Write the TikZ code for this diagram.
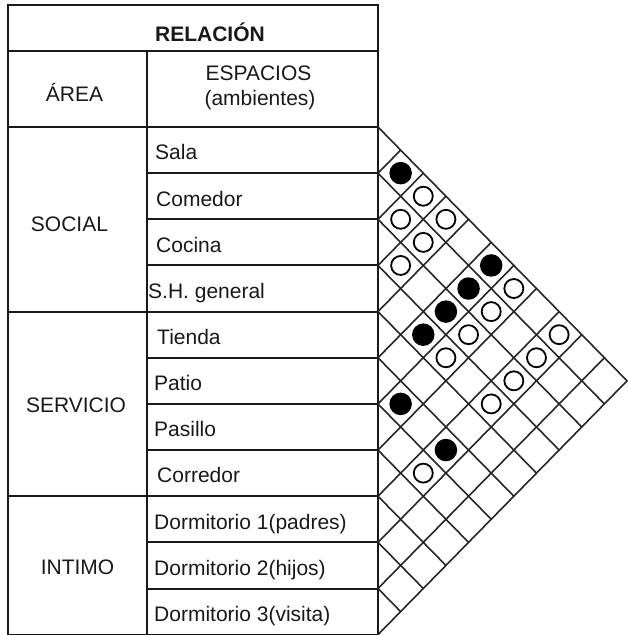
\documentclass[tikz,border=0pt]{standalone}
\usepackage{fontspec}
\setmainfont{Liberation Sans}
\begin{document}
\begin{tikzpicture}[x=1pt,y=-1pt,
  tline/.style={line width=2pt, draw=black!90},
  gline/.style={line width=1.6pt, draw=black!85, line cap=round},
  txt/.style={inner sep=0pt, font=\fontsize{21}{24}\selectfont, text=black!90},
  fulldot/.style={circle, fill=black, draw=none, minimum size=22.5pt, inner sep=0pt},
  opendot/.style={circle, draw=black, line width=1.8pt, fill=white, minimum size=19pt, inner sep=0pt}]
\useasboundingbox (0,0) rectangle (628,635);

% table frame
\draw[tline] (8,5) rectangle (378,634.65);
\draw[tline] (8,51) -- (378,51);
\draw[tline] (147,51) -- (147,634.65);
\draw[tline] (8,127) -- (378,127);
\foreach \k in {1,2,3,5,6,7,9,10} {
  \draw[tline] (147,127+46.15*\k) -- (378,127+46.15*\k);
}
\foreach \k in {4,8} {
  \draw[tline] (8,127+46.15*\k) -- (378,127+46.15*\k);
}

% header texts
\node[txt, font=\fontsize{21}{24}\selectfont\bfseries, anchor=base] (rel) at (210,41.5) {RELACIÓN};
\node[txt, anchor=base] (area) at (74.5,101.5) {ÁREA};
\node[txt, anchor=base] (esp) at (258.5,80) {ESPACIOS};
\node[txt, anchor=base] (amb) at (260,105) {(ambientes)};

% area texts
\node[txt, anchor=base] (social) at (69.5,231.5) {SOCIAL};
\node[txt, anchor=base] (servicio) at (76,412.5) {SERVICIO};
\node[txt, anchor=base] (intimo) at (77.5,574.5) {INTIMO};

% space texts
\node[txt, anchor=base west] (s0) at (155,159.9) {Sala};
\node[txt, anchor=base west] (s1) at (156,206) {Comedor};
\node[txt, anchor=base west] (s2) at (156,252.2) {Cocina};
\node[txt, anchor=base west] (s3) at (148,298.3) {S.H. general};
\node[txt, anchor=base west] (s4) at (157,344.5) {Tienda};
\node[txt, anchor=base west] (s5) at (154,390.6) {Patio};
\node[txt, anchor=base west] (s6) at (154,436.8) {Pasillo};
\node[txt, anchor=base west] (s7) at (157,482.9) {Corredor};
\node[txt, anchor=base west] (s8) at (154,529.1) {Dormitorio 1(padres)};
\node[txt, anchor=base west] (s9) at (154,575.2) {Dormitorio 2(hijos)};
\node[txt, anchor=base west] (s10) at (154,621.4) {Dormitorio 3(visita)};

% relation matrix
\begin{scope}[shift={(378pt,-127pt)}, x={(22.64pt,-23.075pt)}, y={(22.64pt,23.075pt)}]
  \foreach \k in {0,...,10} { \draw[gline] (\k,-\k) -- (11,-\k); }
  \foreach \k in {1,...,11} { \draw[gline] (\k,-\k) -- (\k,0); }
  % filled dots (i,j) at (j+0.5, -(i+0.5))
  \foreach \i/\j in {0/1, 0/5, 1/5, 2/5, 3/5, 5/6, 5/8} {
    \node[fulldot] (f\i-\j) at (\j+0.5,-\i-0.5) {};
  }
  \foreach \i/\j in {0/2, 1/2, 0/3, 1/3, 2/3, 0/6, 1/6, 2/6, 3/6, 0/8, 1/8, 2/8, 3/8, 6/8} {
    \node[opendot] (o\i-\j) at (\j+0.5,-\i-0.5) {};
  }
\end{scope}
\end{tikzpicture}
\end{document}
